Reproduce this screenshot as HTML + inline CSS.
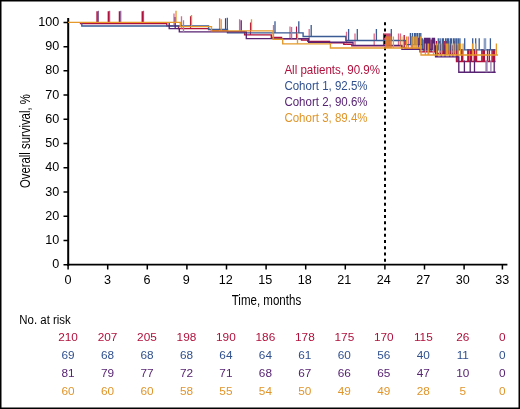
<!DOCTYPE html>
<html><head><meta charset="utf-8"><style>
html,body{margin:0;padding:0;background:#fff;}
svg{display:block;font-family:"Liberation Sans",sans-serif;will-change:transform;}
</style></head><body>
<svg width="520" height="409" viewBox="0 0 520 409">
<rect x="0" y="0" width="520" height="409" fill="#fff"/>
<path d="M68.2,18V266" stroke="#000" stroke-width="2" fill="none"/>
<path d="M67.2,264.7H507.4" stroke="#000" stroke-width="1.8" fill="none"/>
<path d="M63.5,264.70H68M63.5,240.47H68M63.5,216.24H68M63.5,192.01H68M63.5,167.78H68M63.5,143.55H68M63.5,119.32H68M63.5,95.09H68M63.5,70.86H68M63.5,46.63H68M63.5,22.40H68" stroke="#000" stroke-width="1.5" fill="none"/>
<path d="M68.10,264.7V269.5M107.70,264.7V269.5M147.30,264.7V269.5M186.90,264.7V269.5M226.50,264.7V269.5M266.10,264.7V269.5M305.70,264.7V269.5M345.30,264.7V269.5M384.90,264.7V269.5M424.50,264.7V269.5M464.10,264.7V269.5M502.40,264.7V269.5" stroke="#000" stroke-width="1.5" fill="none"/>
<path d="M80.5,22.4H80.5V23.6H166.8V25.8H178.5V28.6H208.6V29.6H211.5V30.7H227.5V31.6H244.6V34.8H271.3V37.5H281.6V38.8H301.5V40.0H307.8V41.3H329.6V42.7H343.8V44.2H351.8V45.8H401.7V47.3H405V48.8H420V51.9H436V53.5H456.5V61.5H495.5" stroke="#b0103c" stroke-width="1.35" fill="none"/>
<path d="M97.1,23.6v-12.4M108.4,23.6v-12.4M119.5,23.6v-12.4M142.3,23.6v-12.4" stroke="#b0103c" stroke-width="1.5" fill="none"/>
<path d="M174.0,25.8v-12.4M181.5,28.6v-12.4M219.6,30.7v-12.4M239.6,31.6v-12.4M273.5,37.5v-12.4M290.0,38.8v-12.4M309.2,41.3v-12.4M346.5,44.2v-12.4M355.0,45.8v-12.4M374.2,45.8v-12.4M383.6,45.8v-12.4M384.7,45.8v-12.4M385.7,45.8v-12.4M386.8,45.8v-12.4M387.8,45.8v-12.4M388.9,45.8v-12.4M389.9,45.8v-12.4M391.0,45.8v-12.4M398.5,45.8v-12.4M400.5,45.8v-12.4M408.3,48.8v-12.4M411.3,48.8v-12.4" stroke="#dc6a8a" stroke-width="1.3" fill="none"/>
<path d="M190.5,28.6v-12.4M225.5,30.7v-12.4M250.5,34.8v-12.4M296.5,38.8v-12.4" stroke="#b0103c" stroke-width="1.1" fill="none"/>
<path d="M383.6,45.8v-12.4M385.0,45.8v-12.4M387.0,45.8v-12.4M389.0,45.8v-12.4" stroke="#b0103c" stroke-width="0.8" fill="none"/>
<path d="M404.2,47.3v-12.4M412.2,48.8v-12.4M424.0,51.9v-12.4M425.0,51.9v-12.4M427.0,51.9v-12.4M429.5,51.9v-12.4M431.2,51.9v-12.4M434.5,51.9v-12.4M436.5,53.5v-12.4M439.8,53.5v-12.4M442.8,53.5v-12.4M443.8,53.5v-12.4M445.2,53.5v-12.4M446.5,53.5v-12.4M448.7,53.5v-12.4M450.8,53.5v-12.4M454.1,53.5v-12.4M456.6,61.5v-12.4M458.0,61.5v-12.4M461.6,61.5v-12.4M462.8,61.5v-12.4M467.8,61.5v-12.4M468.8,61.5v-12.4M470.4,61.5v-12.4M471.6,61.5v-12.4M474.2,61.5v-12.4M475.3,61.5v-12.4M476.6,61.5v-12.4M481.8,61.5v-12.4M483.2,61.5v-12.4M484.4,61.5v-12.4M487.5,61.5v-12.4M489.4,61.5v-12.4M492.0,61.5v-12.4M493.4,61.5v-12.4M494.6,61.5v-12.4" stroke="#b0103c" stroke-width="1.3" fill="none"/>
<path d="M81.8,22.4H81.8V26.0H208.6V29.3H227.5V32.9H303.1V36.5H345.8V40.5H405.8V44.6H422.3V49.8H495.5" stroke="#3a5b94" stroke-width="1.35" fill="none"/>
<path d="M227.3,29.3v-11.6M275.0,32.9v-11.6M298.8,32.9v-11.6M311.2,36.5v-11.6M348.6,40.5v-11.6M357.3,40.5v-11.6M376.4,40.5v-11.6M391.3,40.5v-11.6M410.4,44.6v-11.6M412.4,44.6v-11.6M414.5,44.6v-11.6M415.9,44.6v-11.6M417.5,44.6v-11.6M419.3,44.6v-11.6M420.8,44.6v-11.6M422.3,49.8v-11.6M438.3,49.8v-11.6M440.1,49.8v-11.6M442.3,49.8v-11.6M443.4,49.8v-11.6M445.6,49.8v-11.6M447.2,49.8v-11.6M448.5,49.8v-11.6M450.4,49.8v-11.6M451.6,49.8v-11.6M453.6,49.8v-11.6M455.1,49.8v-11.6M456.7,49.8v-11.6M458.3,49.8v-11.6M459.9,49.8v-11.6M464.7,49.8v-11.6M472.7,49.8v-11.6M475.7,49.8v-11.6M479.2,49.8v-11.6M490.4,49.8v-11.6" stroke="#3a5b94" stroke-width="1.3" fill="none"/>
<path d="M484.3,49.8v-11.6M485.6,49.8v-11.6" stroke="#8a9fc4" stroke-width="1.3" fill="none"/>
<path d="M169.2,22.4H169.2V28.6H179.3V31.9H246.3V38.6H308.6V42.2H353V45.4H401.9V49.4H435.6V56.9H458.8V72.2H495.7" stroke="#572372" stroke-width="1.35" fill="none"/>
<path d="M98.4,22.4v-11.6M109.7,22.4v-11.6M120.8,22.4v-11.6M143.6,22.4v-11.6" stroke="#572372" stroke-width="0.8" fill="none"/>
<path d="M175.2,28.6v-11.6M241.2,31.9v-11.6M418.8,49.4v-11.6M424.5,49.4v-11.6M425.6,49.4v-11.6M426.7,49.4v-11.6M427.8,49.4v-11.6M428.9,49.4v-11.6M429.9,49.4v-11.6M432.3,49.4v-11.6M433.4,49.4v-11.6M434.5,49.4v-11.6M435.6,56.9v-11.6M436.6,56.9v-11.6M437.2,56.9v-11.6M464.4,72.2v-11.6M470.2,72.2v-11.6M474.5,72.2v-11.6M494.2,72.2v-11.6" stroke="#572372" stroke-width="1.3" fill="none"/>
<path d="M183.5,31.9v-11.6M291.6,38.6v-11.6M486.0,72.2v-11.6M487.0,72.2v-11.6M490.9,72.2v-11.6" stroke="#9a80b0" stroke-width="1.3" fill="none"/>
<path d="M441.2,56.9v-11.6M445.0,56.9v-11.6M449.8,56.9v-11.6M452.9,56.9v-11.6M457.2,56.9v-11.6" stroke="#572372" stroke-width="1.1" fill="none"/>
<path d="M385,22.3V265" stroke="#000" stroke-width="2" stroke-dasharray="3 3.22" fill="none"/>
<path d="M68,22.4H180.3V26.6H211.5V30.8H273.1V39.2H282.7V43.8H330.4V48.0H421.0V55.0H498.0" stroke="#e4992a" stroke-width="1.35" fill="none"/>
<path d="M176.0,22.4v-11.6M191.5,26.6v-11.6M221.2,30.8v-11.6M251.5,30.8v-11.6M297.5,43.8v-11.6M393.4,48.0v-11.6M406.6,48.0v-11.6M417.1,48.0v-11.6M420.6,48.0v-11.6M425.4,55.0v-11.6M428.1,55.0v-11.6M428.7,55.0v-11.6M433.5,55.0v-11.6M436.8,55.0v-11.6M439.4,55.0v-11.6M441.6,55.0v-11.6M446.2,55.0v-11.6M447.4,55.0v-11.6M449.1,55.0v-11.6M451.6,55.0v-11.6M453.6,55.0v-11.6M455.5,55.0v-11.6M458.0,55.0v-11.6M460.6,55.0v-11.6M463.1,55.0v-11.6M472.5,55.0v-11.6M475.7,55.0v-11.6M496.4,55.0v-11.6" stroke="#e4992a" stroke-width="1.3" fill="none"/>
<path d="M385.6,48.0v-11.6M386.5,48.0v-11.6M387.5,48.0v-11.6M388.4,48.0v-11.6M389.3,48.0v-11.6M390.3,48.0v-11.6M391.2,48.0v-11.6" stroke="#e2802a" stroke-width="1.0" stroke-opacity="0.85" fill="none"/>
<path d="M400.4,48.0v-11.6M402.2,48.0v-11.6" stroke="#e4992a" stroke-width="1.3" stroke-opacity="0.45" fill="none"/>
<path d="M411.8,48.0v-11.6M413.0,48.0v-11.6M414.2,48.0v-11.6M415.4,48.0v-11.6M416.2,48.0v-11.6" stroke="#e4992a" stroke-width="1.3" stroke-opacity="0.8" fill="none"/>
<text x="59.2" y="268.20" text-anchor="end" font-size="12.6">0</text>
<text x="59.2" y="243.97" text-anchor="end" font-size="12.6">10</text>
<text x="59.2" y="219.74" text-anchor="end" font-size="12.6">20</text>
<text x="59.2" y="195.51" text-anchor="end" font-size="12.6">30</text>
<text x="59.2" y="171.28" text-anchor="end" font-size="12.6">40</text>
<text x="59.2" y="147.05" text-anchor="end" font-size="12.6">50</text>
<text x="59.2" y="122.82" text-anchor="end" font-size="12.6">60</text>
<text x="59.2" y="98.59" text-anchor="end" font-size="12.6">70</text>
<text x="59.2" y="74.36" text-anchor="end" font-size="12.6">80</text>
<text x="59.2" y="50.13" text-anchor="end" font-size="12.6">90</text>
<text x="59.2" y="25.90" text-anchor="end" font-size="12.6">100</text>
<text x="67.90" y="284.4" text-anchor="middle" font-size="12.6">0</text>
<text x="107.40" y="284.4" text-anchor="middle" font-size="12.6">3</text>
<text x="146.89" y="284.4" text-anchor="middle" font-size="12.6">6</text>
<text x="186.38" y="284.4" text-anchor="middle" font-size="12.6">9</text>
<text x="225.88" y="284.4" text-anchor="middle" font-size="12.6">12</text>
<text x="265.38" y="284.4" text-anchor="middle" font-size="12.6">15</text>
<text x="304.87" y="284.4" text-anchor="middle" font-size="12.6">18</text>
<text x="344.37" y="284.4" text-anchor="middle" font-size="12.6">21</text>
<text x="383.86" y="284.4" text-anchor="middle" font-size="12.6">24</text>
<text x="423.36" y="284.4" text-anchor="middle" font-size="12.6">27</text>
<text x="462.85" y="284.4" text-anchor="middle" font-size="12.6">30</text>
<text x="502.35" y="284.4" text-anchor="middle" font-size="12.6">33</text>
<text x="231.7" y="304.5" font-size="14.5" textLength="69.5" lengthAdjust="spacingAndGlyphs">Time, months</text>
<text transform="translate(30,188) rotate(-90)" x="0" y="0" font-size="14.5" textLength="93.8" lengthAdjust="spacingAndGlyphs">Overall survival, %</text>
<text x="284.4" y="73.5" fill="#b0103c" font-size="12" textLength="95.6" lengthAdjust="spacingAndGlyphs">All patients, 90.9%</text>
<text x="284.4" y="89.5" fill="#30508e" font-size="12" textLength="83.2" lengthAdjust="spacingAndGlyphs">Cohort 1, 92.5%</text>
<text x="284.4" y="105.5" fill="#572372" font-size="12" textLength="83.2" lengthAdjust="spacingAndGlyphs">Cohort 2, 90.6%</text>
<text x="284.4" y="121.5" fill="#e0952a" font-size="12" textLength="83.2" lengthAdjust="spacingAndGlyphs">Cohort 3, 89.4%</text>
<text x="19.3" y="323.8" font-size="12" textLength="51.5" lengthAdjust="spacingAndGlyphs">No. at risk</text>
<text x="68.00" y="341.2" text-anchor="middle" fill="#b0103c" font-size="11.8">210</text>
<text x="107.48" y="341.2" text-anchor="middle" fill="#b0103c" font-size="11.8">207</text>
<text x="146.96" y="341.2" text-anchor="middle" fill="#b0103c" font-size="11.8">205</text>
<text x="186.44" y="341.2" text-anchor="middle" fill="#b0103c" font-size="11.8">198</text>
<text x="225.92" y="341.2" text-anchor="middle" fill="#b0103c" font-size="11.8">190</text>
<text x="265.40" y="341.2" text-anchor="middle" fill="#b0103c" font-size="11.8">186</text>
<text x="304.88" y="341.2" text-anchor="middle" fill="#b0103c" font-size="11.8">178</text>
<text x="344.36" y="341.2" text-anchor="middle" fill="#b0103c" font-size="11.8">175</text>
<text x="383.84" y="341.2" text-anchor="middle" fill="#b0103c" font-size="11.8">170</text>
<text x="423.32" y="341.2" text-anchor="middle" fill="#b0103c" font-size="11.8">115</text>
<text x="462.80" y="341.2" text-anchor="middle" fill="#b0103c" font-size="11.8">26</text>
<text x="502.28" y="341.2" text-anchor="middle" fill="#b0103c" font-size="11.8">0</text>
<text x="68.00" y="359.1" text-anchor="middle" fill="#30508e" font-size="11.8">69</text>
<text x="107.48" y="359.1" text-anchor="middle" fill="#30508e" font-size="11.8">68</text>
<text x="146.96" y="359.1" text-anchor="middle" fill="#30508e" font-size="11.8">68</text>
<text x="186.44" y="359.1" text-anchor="middle" fill="#30508e" font-size="11.8">68</text>
<text x="225.92" y="359.1" text-anchor="middle" fill="#30508e" font-size="11.8">64</text>
<text x="265.40" y="359.1" text-anchor="middle" fill="#30508e" font-size="11.8">64</text>
<text x="304.88" y="359.1" text-anchor="middle" fill="#30508e" font-size="11.8">61</text>
<text x="344.36" y="359.1" text-anchor="middle" fill="#30508e" font-size="11.8">60</text>
<text x="383.84" y="359.1" text-anchor="middle" fill="#30508e" font-size="11.8">56</text>
<text x="423.32" y="359.1" text-anchor="middle" fill="#30508e" font-size="11.8">40</text>
<text x="462.80" y="359.1" text-anchor="middle" fill="#30508e" font-size="11.8">11</text>
<text x="502.28" y="359.1" text-anchor="middle" fill="#30508e" font-size="11.8">0</text>
<text x="68.00" y="377.0" text-anchor="middle" fill="#572372" font-size="11.8">81</text>
<text x="107.48" y="377.0" text-anchor="middle" fill="#572372" font-size="11.8">79</text>
<text x="146.96" y="377.0" text-anchor="middle" fill="#572372" font-size="11.8">77</text>
<text x="186.44" y="377.0" text-anchor="middle" fill="#572372" font-size="11.8">72</text>
<text x="225.92" y="377.0" text-anchor="middle" fill="#572372" font-size="11.8">71</text>
<text x="265.40" y="377.0" text-anchor="middle" fill="#572372" font-size="11.8">68</text>
<text x="304.88" y="377.0" text-anchor="middle" fill="#572372" font-size="11.8">67</text>
<text x="344.36" y="377.0" text-anchor="middle" fill="#572372" font-size="11.8">66</text>
<text x="383.84" y="377.0" text-anchor="middle" fill="#572372" font-size="11.8">65</text>
<text x="423.32" y="377.0" text-anchor="middle" fill="#572372" font-size="11.8">47</text>
<text x="462.80" y="377.0" text-anchor="middle" fill="#572372" font-size="11.8">10</text>
<text x="502.28" y="377.0" text-anchor="middle" fill="#572372" font-size="11.8">0</text>
<text x="68.00" y="394.9" text-anchor="middle" fill="#e0952a" font-size="11.8">60</text>
<text x="107.48" y="394.9" text-anchor="middle" fill="#e0952a" font-size="11.8">60</text>
<text x="146.96" y="394.9" text-anchor="middle" fill="#e0952a" font-size="11.8">60</text>
<text x="186.44" y="394.9" text-anchor="middle" fill="#e0952a" font-size="11.8">58</text>
<text x="225.92" y="394.9" text-anchor="middle" fill="#e0952a" font-size="11.8">55</text>
<text x="265.40" y="394.9" text-anchor="middle" fill="#e0952a" font-size="11.8">54</text>
<text x="304.88" y="394.9" text-anchor="middle" fill="#e0952a" font-size="11.8">50</text>
<text x="344.36" y="394.9" text-anchor="middle" fill="#e0952a" font-size="11.8">49</text>
<text x="383.84" y="394.9" text-anchor="middle" fill="#e0952a" font-size="11.8">49</text>
<text x="423.32" y="394.9" text-anchor="middle" fill="#e0952a" font-size="11.8">28</text>
<text x="462.80" y="394.9" text-anchor="middle" fill="#e0952a" font-size="11.8">5</text>
<text x="502.28" y="394.9" text-anchor="middle" fill="#e0952a" font-size="11.8">0</text>
<rect x="0.75" y="0.75" width="518.5" height="407.5" fill="none" stroke="#000" stroke-width="1.5"/>
</svg>
</body></html>
